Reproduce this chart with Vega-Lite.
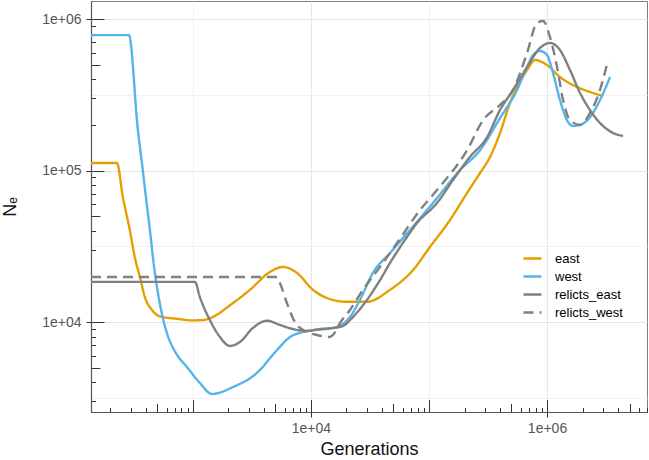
{
  "$schema": "https://vega.github.io/schema/vega-lite/v6.json",
  "width": 556,
  "height": 411,
  "autosize": "none",
  "padding": {"left": 91, "top": 1, "right": 2, "bottom": 48},
  "background": "white",
  "config": {"font": "Liberation Sans", "view": {"stroke": "#808080", "strokeWidth": 1}},
  "data": {"values": [
    {"series": "east", "gen": 137, "ne": 112000},
    {"series": "east", "gen": 227, "ne": 112000},
    {"series": "east", "gen": 255, "ne": 66800},
    {"series": "east", "gen": 292, "ne": 40500},
    {"series": "east", "gen": 322, "ne": 26800},
    {"series": "east", "gen": 356, "ne": 19800},
    {"series": "east", "gen": 392, "ne": 14600},
    {"series": "east", "gen": 450, "ne": 12000},
    {"series": "east", "gen": 525, "ne": 10900},
    {"series": "east", "gen": 731, "ne": 10500},
    {"series": "east", "gen": 1000, "ne": 10250},
    {"series": "east", "gen": 1216, "ne": 10300},
    {"series": "east", "gen": 1477, "ne": 10800},
    {"series": "east", "gen": 2061, "ne": 12900},
    {"series": "east", "gen": 3040, "ne": 16300},
    {"series": "east", "gen": 4497, "ne": 21400},
    {"series": "east", "gen": 5790, "ne": 23100},
    {"series": "east", "gen": 7605, "ne": 21100},
    {"series": "east", "gen": 10400, "ne": 16300},
    {"series": "east", "gen": 13670, "ne": 14400},
    {"series": "east", "gen": 20180, "ne": 13600},
    {"series": "east", "gen": 29850, "ne": 13600},
    {"series": "east", "gen": 46690, "ne": 16300},
    {"series": "east", "gen": 73140, "ne": 22000},
    {"series": "east", "gen": 101900, "ne": 31300},
    {"series": "east", "gen": 150600, "ne": 47100},
    {"series": "east", "gen": 209900, "ne": 71000},
    {"series": "east", "gen": 270300, "ne": 96100},
    {"series": "east", "gen": 328900, "ne": 123000},
    {"series": "east", "gen": 399900, "ne": 177000},
    {"series": "east", "gen": 485700, "ne": 279000},
    {"series": "east", "gen": 557200, "ne": 356000},
    {"series": "east", "gen": 677400, "ne": 460000},
    {"series": "east", "gen": 791000, "ne": 536000},
    {"series": "east", "gen": 1000000, "ne": 497000},
    {"series": "east", "gen": 1288000, "ne": 414000},
    {"series": "east", "gen": 1795000, "ne": 356000},
    {"series": "east", "gen": 2312000, "ne": 330000},
    {"series": "east", "gen": 2985000, "ne": 310000},

    {"series": "west", "gen": 137, "ne": 783000},
    {"series": "west", "gen": 287, "ne": 783000},
    {"series": "west", "gen": 342, "ne": 185000},
    {"series": "west", "gen": 370, "ne": 112000},
    {"series": "west", "gen": 400, "ne": 66800},
    {"series": "west", "gen": 433, "ne": 40000},
    {"series": "west", "gen": 467, "ne": 23800},
    {"series": "west", "gen": 504, "ne": 15800},
    {"series": "west", "gen": 557, "ne": 10600},
    {"series": "west", "gen": 614, "ne": 8090},
    {"series": "west", "gen": 718, "ne": 6240},
    {"series": "west", "gen": 889, "ne": 5050},
    {"series": "west", "gen": 1146, "ne": 3960},
    {"series": "west", "gen": 1449, "ne": 3350},
    {"series": "west", "gen": 2184, "ne": 3720},
    {"series": "west", "gen": 3484, "ne": 4610},
    {"series": "west", "gen": 5155, "ne": 6530},
    {"series": "west", "gen": 6642, "ne": 7960},
    {"series": "west", "gen": 8551, "ne": 8590},
    {"series": "west", "gen": 16600, "ne": 9270},
    {"series": "west", "gen": 21410, "ne": 10800},
    {"series": "west", "gen": 26020, "ne": 14000},
    {"series": "west", "gen": 33500, "ne": 21100},
    {"series": "west", "gen": 46690, "ne": 28500},
    {"series": "west", "gen": 69040, "ne": 40500},
    {"series": "west", "gen": 108100, "ne": 61000},
    {"series": "west", "gen": 183200, "ne": 100700},
    {"series": "west", "gen": 270300, "ne": 136000},
    {"series": "west", "gen": 399900, "ne": 222000},
    {"series": "west", "gen": 557200, "ne": 340000},
    {"series": "west", "gen": 677400, "ne": 482000},
    {"series": "west", "gen": 760900, "ne": 578000},
    {"series": "west", "gen": 872500, "ne": 615000},
    {"series": "west", "gen": 1000000, "ne": 578000},
    {"series": "west", "gen": 1124000, "ne": 440000},
    {"series": "west", "gen": 1288000, "ne": 292000},
    {"series": "west", "gen": 1476000, "ne": 215000},
    {"series": "west", "gen": 1660000, "ne": 197000},
    {"series": "west", "gen": 1904000, "ne": 200000},
    {"series": "west", "gen": 2312000, "ne": 225000},
    {"series": "west", "gen": 2810000, "ne": 292000},
    {"series": "west", "gen": 3420000, "ne": 414000},

    {"series": "relicts_east", "gen": 137, "ne": 18400},
    {"series": "relicts_east", "gen": 1040, "ne": 18400},
    {"series": "relicts_east", "gen": 1146, "ne": 14600},
    {"series": "relicts_east", "gen": 1393, "ne": 10300},
    {"series": "relicts_east", "gen": 1694, "ne": 7960},
    {"series": "relicts_east", "gen": 2061, "ne": 6950},
    {"series": "relicts_east", "gen": 2502, "ne": 7380},
    {"series": "relicts_east", "gen": 3222, "ne": 9130},
    {"series": "relicts_east", "gen": 4236, "ne": 10200},
    {"series": "relicts_east", "gen": 5461, "ne": 9560},
    {"series": "relicts_east", "gen": 7036, "ne": 8990},
    {"series": "relicts_east", "gen": 9250, "ne": 8720},
    {"series": "relicts_east", "gen": 11920, "ne": 8990},
    {"series": "relicts_east", "gen": 15350, "ne": 9130},
    {"series": "relicts_east", "gen": 18660, "ne": 9410},
    {"series": "relicts_east", "gen": 22700, "ne": 10800},
    {"series": "relicts_east", "gen": 29850, "ne": 14000},
    {"series": "relicts_east", "gen": 38430, "ne": 18900},
    {"series": "relicts_east", "gen": 46690, "ne": 24500},
    {"series": "relicts_east", "gen": 65100, "ne": 36400},
    {"series": "relicts_east", "gen": 79070, "ne": 45000},
    {"series": "relicts_east", "gen": 116900, "ne": 61000},
    {"series": "relicts_east", "gen": 159600, "ne": 86500},
    {"series": "relicts_east", "gen": 222400, "ne": 123000},
    {"series": "relicts_east", "gen": 310500, "ne": 166000},
    {"series": "relicts_east", "gen": 399900, "ne": 251000},
    {"series": "relicts_east", "gen": 515200, "ne": 340000},
    {"series": "relicts_east", "gen": 677400, "ne": 482000},
    {"series": "relicts_east", "gen": 872500, "ne": 644000},
    {"series": "relicts_east", "gen": 1060000, "ne": 695000},
    {"series": "relicts_east", "gen": 1288000, "ne": 624000},
    {"series": "relicts_east", "gen": 1566000, "ne": 460000},
    {"series": "relicts_east", "gen": 1904000, "ne": 325000},
    {"series": "relicts_east", "gen": 2312000, "ne": 251000},
    {"series": "relicts_east", "gen": 2810000, "ne": 206000},
    {"series": "relicts_east", "gen": 3624000, "ne": 177000},
    {"series": "relicts_east", "gen": 4404000, "ne": 169000},

    {"series": "relicts_west", "gen": 137, "ne": 19800},
    {"series": "relicts_west", "gen": 5155, "ne": 19800},
    {"series": "relicts_west", "gen": 5461, "ne": 18100},
    {"series": "relicts_west", "gen": 6266, "ne": 13300},
    {"series": "relicts_west", "gen": 7311, "ne": 10000},
    {"series": "relicts_west", "gen": 9250, "ne": 8590},
    {"series": "relicts_west", "gen": 11240, "ne": 8210},
    {"series": "relicts_west", "gen": 14490, "ne": 7960},
    {"series": "relicts_west", "gen": 15350, "ne": 8210},
    {"series": "relicts_west", "gen": 17620, "ne": 9850},
    {"series": "relicts_west", "gen": 21410, "ne": 12000},
    {"series": "relicts_west", "gen": 27590, "ne": 16300},
    {"series": "relicts_west", "gen": 38430, "ne": 23100},
    {"series": "relicts_west", "gen": 53550, "ne": 33200},
    {"series": "relicts_west", "gen": 83900, "ne": 54800},
    {"series": "relicts_west", "gen": 116900, "ne": 74300},
    {"series": "relicts_west", "gen": 209900, "ne": 136000},
    {"series": "relicts_west", "gen": 287000, "ne": 215000},
    {"series": "relicts_west", "gen": 399900, "ne": 271000},
    {"series": "relicts_west", "gen": 515200, "ne": 340000},
    {"series": "relicts_west", "gen": 677400, "ne": 597000},
    {"series": "relicts_west", "gen": 822000, "ne": 941000},
    {"series": "relicts_west", "gen": 924900, "ne": 971000},
    {"series": "relicts_west", "gen": 1060000, "ne": 760000},
    {"series": "relicts_west", "gen": 1216000, "ne": 482000},
    {"series": "relicts_west", "gen": 1367000, "ne": 292000},
    {"series": "relicts_west", "gen": 1566000, "ne": 215000},
    {"series": "relicts_west", "gen": 1904000, "ne": 200000},
    {"series": "relicts_west", "gen": 2312000, "ne": 240000},
    {"series": "relicts_west", "gen": 2810000, "ne": 340000},
    {"series": "relicts_west", "gen": 3290000, "ne": 536000}
  ]},
  "layer": [
    {
      "mark": {"type": "line", "opacity": 0},
      "encoding": {
        "x": {
          "field": "gen", "type": "quantitative",
          "scale": {"type": "log", "domain": [137, 7030000], "nice": false},
          "axis": {
            "orient": "bottom", "title": null, "labels": false, "domain": false,
            "values": [200,300,400,500,600,700,800,900,1000,2000,3000,4000,5000,6000,7000,8000,9000,10000,20000,30000,40000,50000,60000,70000,80000,90000,100000,200000,300000,400000,500000,600000,700000,800000,900000,1000000,2000000,3000000,4000000,5000000,6000000,7000000],
            "tickColor": "#333333", "tickWidth": 1,
            "tickSize": {"expr": "abs(log(datum.value)/LN10 - round(log(datum.value)/LN10)) < 0.001 ? -12.5 : (abs(datum.value/pow(10, floor(log(datum.value)/LN10 + 0.000001)) - 5) < 0.001 ? -8.5 : -4.5)"},
            "grid": true, "gridColor": "#f1f1f1", "gridWidth": 1,
            "gridOpacity": {"condition": {"test": "datum.value == 1000 || datum.value == 100000", "value": 1}, "value": 0}
          }
        },
        "y": {
          "field": "ne", "type": "quantitative",
          "scale": {"type": "log", "domain": [2547, 1315000], "nice": false},
          "axis": {
            "orient": "left", "title": null, "labels": false, "domain": false,
            "values": [3000,4000,5000,6000,7000,8000,9000,10000,20000,30000,40000,50000,60000,70000,80000,90000,100000,200000,300000,400000,500000,600000,700000,800000,900000,1000000,3162.2777,31622.777,316227.77],
            "tickColor": "#333333", "tickWidth": 1,
            "tickSize": {"expr": "abs(log(datum.value)/LN10 - round(log(datum.value)/LN10)) < 0.001 ? -13 : (abs(datum.value/pow(10, floor(log(datum.value)/LN10 + 0.000001)) - 5) < 0.001 ? -9 : -4.5)"},
            "tickOpacity": {"condition": {"test": "abs(log(datum.value)/LN10 - floor(log(datum.value)/LN10) - 0.5) < 0.001", "value": 0}, "value": 1},
            "grid": true, "gridColor": "#f1f1f1", "gridWidth": 1,
            "gridOpacity": {"condition": {"test": "abs(log(datum.value)/LN10 - floor(log(datum.value)/LN10) - 0.5) < 0.001", "value": 1}, "value": 0}
          }
        },
        "detail": {"field": "series", "type": "nominal"}
      }
    },
    {
      "mark": {"type": "line", "strokeWidth": 2.4, "clip": true, "interpolate": "monotone"},
      "encoding": {
        "x": {
          "field": "gen", "type": "quantitative",
          "scale": {"type": "log", "domain": [137, 7030000], "nice": false},
          "axis": {
            "orient": "bottom", "values": [10000, 1000000],
            "labelExpr": "'1e+0' + round(log(datum.value)/LN10)",
            "tickSize": 5, "tickColor": "#333333", "domainColor": "#555555", "domainWidth": 1.2,
            "labelFontSize": 14, "labelColor": "#555555", "labelPadding": 4,
            "title": "Generations", "titleFontSize": 18, "titleFontWeight": "normal", "titleColor": "#111111", "titlePadding": 5,
            "grid": true, "gridColor": "#e6e6e6", "gridWidth": 1
          }
        },
        "y": {
          "field": "ne", "type": "quantitative",
          "scale": {"type": "log", "domain": [2547, 1315000], "nice": false},
          "axis": {
            "orient": "left", "values": [10000, 100000, 1000000],
            "labelExpr": "'1e+0' + round(log(datum.value)/LN10)",
            "tickSize": 5, "tickColor": "#333333", "domainColor": "#555555", "domainWidth": 1.2,
            "labelFontSize": 14, "labelColor": "#555555", "labelPadding": 5,
            "title": "Nₑ", "titleFontSize": 18, "titleFontWeight": "normal", "titleColor": "#111111", "titlePadding": 22,
            "grid": true, "gridColor": "#e6e6e6", "gridWidth": 1
          }
        },
        "color": {
          "field": "series", "type": "nominal",
          "scale": {"domain": ["east", "west", "relicts_east", "relicts_west"], "range": ["#E69F00", "#56B4E9", "#808080", "#808080"]},
          "legend": {
            "orient": "none", "legendX": 431, "legendY": 247, "title": null,
            "symbolType": "stroke", "symbolSize": 324, "symbolStrokeWidth": 2.4,
            "labelFontSize": 13, "labelColor": "#000000", "labelOffset": 12, "rowPadding": 0, "padding": 0
          }
        },
        "strokeDash": {
          "field": "series", "type": "nominal",
          "scale": {"domain": ["east", "west", "relicts_east", "relicts_west"], "range": [[1, 0], [1, 0], [1, 0], [10, 6]]},
          "legend": {
            "orient": "none", "legendX": 431, "legendY": 247, "title": null,
            "symbolType": "stroke", "symbolSize": 324, "symbolStrokeWidth": 2.4,
            "labelFontSize": 13, "labelColor": "#000000", "labelOffset": 12, "rowPadding": 0, "padding": 0
          }
        }
      }
    }
  ],
  "resolve": {"axis": {"x": "independent", "y": "independent"}}
}
